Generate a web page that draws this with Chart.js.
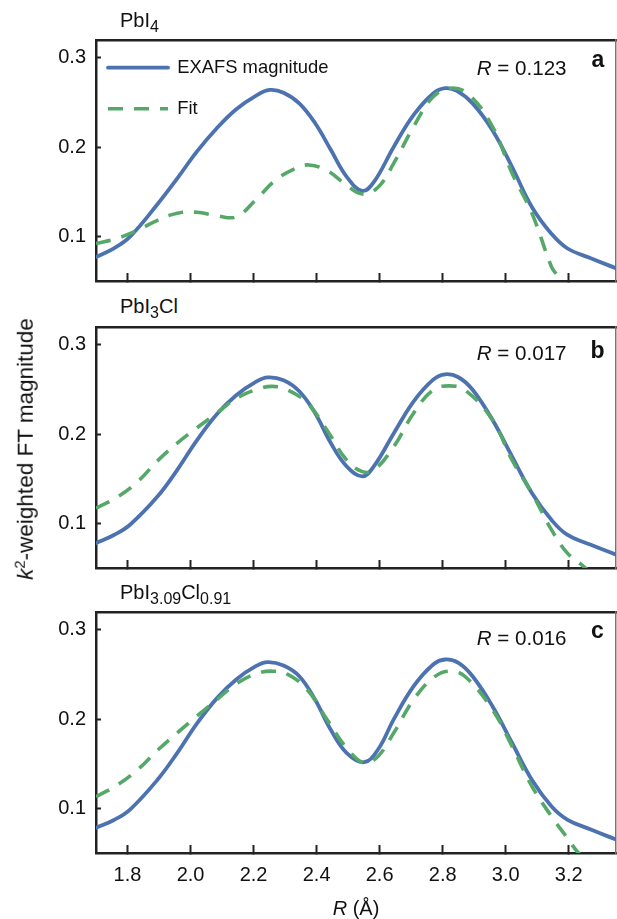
<!DOCTYPE html>
<html><head><meta charset="utf-8">
<script src="https://cdn.jsdelivr.net/npm/chart.js@4.4.1/dist/chart.umd.min.js"></script>
<style>
html,body{margin:0;padding:0;background:#fff;}
body{width:617px;height:919px;position:relative;overflow:hidden;font-family:"Liberation Sans",Arial,sans-serif;color:#111;}
canvas{position:absolute;left:0;}
.t{position:absolute;white-space:nowrap;line-height:1;}
.sub{font-size:16px;position:relative;top:5px;}
</style></head><body>
<canvas id="pa"></canvas>
<canvas id="pb"></canvas>
<canvas id="pc"></canvas>

<div class="t" style="left:120px;top:9.8px;font-size:20px;">PbI<span class="sub">4</span></div>
<div class="t" style="left:120px;top:295.8px;font-size:20px;">PbI<span class="sub">3</span>Cl</div>
<div class="t" style="left:120px;top:582.4px;font-size:20px;">PbI<span class="sub">3.09</span>Cl<span class="sub">0.91</span></div>

<div class="t" style="left:476.7px;top:57.6px;font-size:20.6px;"><i>R</i> = 0.123</div>
<div class="t" style="left:476.7px;top:343.3px;font-size:20.6px;"><i>R</i> = 0.017</div>
<div class="t" style="left:476.7px;top:628.3px;font-size:20.6px;"><i>R</i> = 0.016</div>

<div class="t" style="left:591.5px;top:47.8px;font-size:23px;font-weight:bold;">a</div>
<div class="t" style="left:590.5px;top:338.5px;font-size:23px;font-weight:bold;">b</div>
<div class="t" style="left:591px;top:618.8px;font-size:23px;font-weight:bold;">c</div>

<div class="t" style="left:26px;top:449px;font-size:22.5px;transform:translate(-50%,-50%) rotate(-90deg);"><i>k</i><span style="font-size:15px;position:relative;top:-8px;">2</span>-weighted FT magnitude</div>
<div class="t" style="left:356px;top:898px;font-size:20px;transform:translateX(-50%);"><i>R</i> (Å)</div>

<script>
// ---------- data ----------
const X_TICKS = [1.8, 2.0, 2.2, 2.4, 2.6, 2.8, 3.0, 3.2];
const X_TICK_LABELS = ['1.8', '2.0', '2.2', '2.4', '2.6', '2.8', '3.0', '3.2'];
const Y_TICKS = [0.1, 0.2, 0.3];
const Y_TICK_LABELS = ['0.1', '0.2', '0.3'];
const SERIES_NAMES = ['EXAFS magnitude', 'Fit'];

// Panel a: PbI4
const A_EXAFS_R   = [1.70, 1.757, 1.808, 1.895, 1.958, 2.02, 2.084, 2.145, 2.207, 2.251, 2.295, 2.345, 2.395, 2.445, 2.495, 2.545, 2.582, 2.645, 2.708, 2.77, 2.808, 2.845, 2.895, 2.958, 3.02, 3.083, 3.145, 3.195, 3.27, 3.35];
const A_EXAFS_MAG = [0.077, 0.0866, 0.0997, 0.136, 0.165, 0.195, 0.2215, 0.2425, 0.2575, 0.264, 0.261, 0.249, 0.227, 0.197, 0.167, 0.151, 0.161, 0.2005, 0.236, 0.260, 0.266, 0.263, 0.249, 0.219, 0.178, 0.133, 0.103, 0.0867, 0.0755, 0.0642];
const A_FIT_R     = [1.70, 1.77, 1.833, 1.895, 1.958, 2.02, 2.084, 2.145, 2.207, 2.27, 2.332, 2.376, 2.432, 2.482, 2.545, 2.595, 2.645, 2.708, 2.77, 2.827, 2.883, 2.958, 3.02, 3.083, 3.145, 3.16];
const A_FIT_MAG   = [0.092, 0.098, 0.107, 0.118, 0.126, 0.127, 0.123, 0.122, 0.141, 0.163, 0.176, 0.180, 0.174, 0.161, 0.1475, 0.155, 0.182, 0.223, 0.2565, 0.266, 0.259, 0.223, 0.171, 0.126, 0.066, 0.058];

// Panel b: PbI3Cl
const B_EXAFS_R   = [1.70, 1.757, 1.808, 1.895, 1.958, 2.02, 2.084, 2.145, 2.207, 2.245, 2.295, 2.345, 2.395, 2.445, 2.495, 2.545, 2.582, 2.645, 2.708, 2.77, 2.808, 2.85, 2.895, 2.958, 3.02, 3.083, 3.145, 3.195, 3.27, 3.35];
const B_EXAFS_MAG = [0.078, 0.087, 0.0985, 0.130, 0.160, 0.193, 0.2225, 0.2435, 0.2585, 0.2635, 0.2603, 0.248, 0.2237, 0.190, 0.164, 0.1526, 0.164, 0.201, 0.2367, 0.261, 0.267, 0.2637, 0.2497, 0.216, 0.175, 0.134, 0.104, 0.0873, 0.076, 0.065];
const B_FIT_R     = [1.70, 1.77, 1.833, 1.895, 1.958, 2.02, 2.084, 2.145, 2.207, 2.258, 2.307, 2.37, 2.432, 2.495, 2.545, 2.582, 2.645, 2.708, 2.77, 2.82, 2.87, 2.958, 3.02, 3.083, 3.145, 3.195, 3.245, 3.27];
const B_FIT_MAG   = [0.117, 0.130, 0.147, 0.170, 0.190, 0.207, 0.2237, 0.240, 0.2497, 0.2535, 0.2497, 0.235, 0.205, 0.171, 0.158, 0.1597, 0.186, 0.2237, 0.2497, 0.254, 0.2497, 0.216, 0.171, 0.134, 0.093, 0.067, 0.0525, 0.045];

// Panel c: PbI3.09Cl0.91
const C_EXAFS_R   = [1.70, 1.757, 1.808, 1.895, 1.958, 2.02, 2.084, 2.145, 2.207, 2.245, 2.295, 2.345, 2.395, 2.445, 2.495, 2.551, 2.595, 2.645, 2.708, 2.77, 2.808, 2.85, 2.895, 2.958, 3.02, 3.083, 3.145, 3.195, 3.27, 3.35];
const C_EXAFS_MAG = [0.0782, 0.087, 0.0987, 0.132, 0.1622, 0.195, 0.2235, 0.2444, 0.2593, 0.2638, 0.260, 0.248, 0.222, 0.188, 0.1622, 0.1517, 0.166, 0.200, 0.2369, 0.2612, 0.2668, 0.263, 0.248, 0.2145, 0.1735, 0.132, 0.1024, 0.0875, 0.0763, 0.0651];
const C_FIT_R     = [1.70, 1.77, 1.833, 1.895, 1.958, 2.02, 2.084, 2.145, 2.207, 2.258, 2.307, 2.37, 2.432, 2.495, 2.551, 2.595, 2.645, 2.708, 2.77, 2.82, 2.87, 2.958, 3.02, 3.083, 3.145, 3.195, 3.226, 3.25];
const C_FIT_MAG   = [0.113, 0.1267, 0.1436, 0.165, 0.1847, 0.2033, 0.222, 0.2395, 0.2507, 0.2537, 0.2503, 0.2332, 0.200, 0.1678, 0.151, 0.1585, 0.1847, 0.222, 0.2463, 0.2537, 0.248, 0.2107, 0.1697, 0.1248, 0.0912, 0.067, 0.052, 0.044];

// ---------- styling / layout ----------
const FONT = '"Liberation Sans", Arial, sans-serif';
const BLUE = '#4C72B0';
const GREEN = '#55A868';
const AXIS = '#222222';
const TXT = '#111111';
const X_MIN = 1.7, X_MAX = 3.35, Y_MIN = 0.05, Y_MAX = 0.32;
const PAD_TOP = 10, PANEL_H = 241;
const LEG_FONT = 18.4;

function pts(xs, ys) { return xs.map((x, i) => ({ x: x, y: ys[i] })); }
function noPad(s) { s.paddingTop = 0; s.paddingBottom = 0; s.paddingLeft = 0; s.paddingRight = 0; }

function makePanel(id, top, exR, exM, fitR, fitM, withLegend, withXLabels) {
  const bottomSpace = withXLabels ? 50 : 12;
  const H = PAD_TOP + PANEL_H + bottomSpace;
  const cv = document.getElementById(id);
  cv.width = 617; cv.height = H;
  cv.style.width = '617px'; cv.style.height = H + 'px';
  cv.style.top = (top - PAD_TOP) + 'px';

  const legendOpts = withLegend ? {
    display: true,
    position: 'chartArea',
    align: 'start',
    title: { display: true, text: '', padding: { top: 15.3, bottom: 0 }, font: { size: 1, lineHeight: 1.2 } },
    labels: {
      usePointStyle: true,
      pointStyle: 'line',
      pointStyleWidth: 60,
      padding: 12,
      color: TXT,
      font: { size: LEG_FONT, family: FONT, lineHeight: 29 / LEG_FONT },
      sort: (a, b) => a.datasetIndex - b.datasetIndex,
      generateLabels: (chart) => {
        const items = Chart.defaults.plugins.legend.labels.generateLabels(chart);
        items.forEach(it => {
          const ds = chart.data.datasets[it.datasetIndex];
          it.lineWidth = ds.borderWidth;
          it.lineDash = ds.borderDash || [];
          it.strokeStyle = ds.borderColor;
          it.lineCap = ds.borderCapStyle;
          it.text = [it.text];
        });
        return items;
      }
    }
  } : { display: false };

  return new Chart(cv, {
    type: 'line',
    data: {
      datasets: [
        { label: SERIES_NAMES[0], data: pts(exR, exM), xAxisID: 'x', yAxisID: 'y',
          borderColor: BLUE, borderWidth: 3.8, borderCapStyle: 'round', pointRadius: 0,
          tension: 0.4, fill: false, order: 1 },
        { label: SERIES_NAMES[1], data: pts(fitR, fitM), xAxisID: 'x', yAxisID: 'y',
          borderColor: GREEN, borderWidth: 3.6, borderDash: [15, 11], borderCapStyle: 'butt', pointRadius: 0,
          tension: 0.4, fill: false, order: 0 }
      ]
    },
    options: {
      responsive: false, animation: false, devicePixelRatio: 1,
      layout: { padding: { top: PAD_TOP, right: 1, left: 0, bottom: 0 } },
      events: [],
      plugins: { legend: legendOpts, tooltip: { enabled: false }, title: { display: false } },
      scales: {
        x: {
          type: 'linear', position: 'bottom', min: X_MIN, max: X_MAX,
          afterBuildTicks: s => { s.ticks = X_TICKS.map(v => ({ value: v })); },
          afterFit: s => { s.height = bottomSpace; noPad(s); },
          grid: { display: true, drawOnChartArea: false, drawTicks: true, tickLength: -8, tickWidth: 2, tickColor: AXIS },
          border: { display: true, color: AXIS, width: 2.5 },
          ticks: { display: withXLabels, padding: 18, color: TXT, font: { size: 20, family: FONT },
                   maxRotation: 0, autoSkip: false, callback: (v, i) => X_TICK_LABELS[i] }
        },
        xTop: {
          type: 'linear', position: 'top', min: X_MIN, max: X_MAX, display: true,
          afterFit: s => { s.height = 0; noPad(s); },
          grid: { display: false, drawTicks: false }, ticks: { display: false },
          border: { display: true, color: AXIS, width: 2.5 }
        },
        y: {
          type: 'linear', position: 'left', min: Y_MIN, max: Y_MAX,
          afterBuildTicks: s => { s.ticks = Y_TICKS.map(v => ({ value: v })); },
          afterFit: s => { s.width = 96; noPad(s); },
          grid: { display: true, drawOnChartArea: false, drawTicks: true, tickLength: -5, tickWidth: 2, tickColor: AXIS },
          border: { display: true, color: AXIS, width: 2.5 },
          ticks: { padding: 15, color: TXT, font: { size: 20, family: FONT }, callback: (v, i) => Y_TICK_LABELS[i] }
        },
        yRight: {
          type: 'linear', position: 'right', min: Y_MIN, max: Y_MAX, display: true,
          afterFit: s => { s.width = 0; noPad(s); },
          grid: { display: false, drawTicks: false }, ticks: { display: false },
          border: { display: true, color: '#777777', width: 1.5 }
        }
      }
    }
  });
}

makePanel('pa', 40, A_EXAFS_R, A_EXAFS_MAG, A_FIT_R, A_FIT_MAG, true, false);
makePanel('pb', 327, B_EXAFS_R, B_EXAFS_MAG, B_FIT_R, B_FIT_MAG, false, false);
makePanel('pc', 612, C_EXAFS_R, C_EXAFS_MAG, C_FIT_R, C_FIT_MAG, false, true);
</script>
</body></html>
